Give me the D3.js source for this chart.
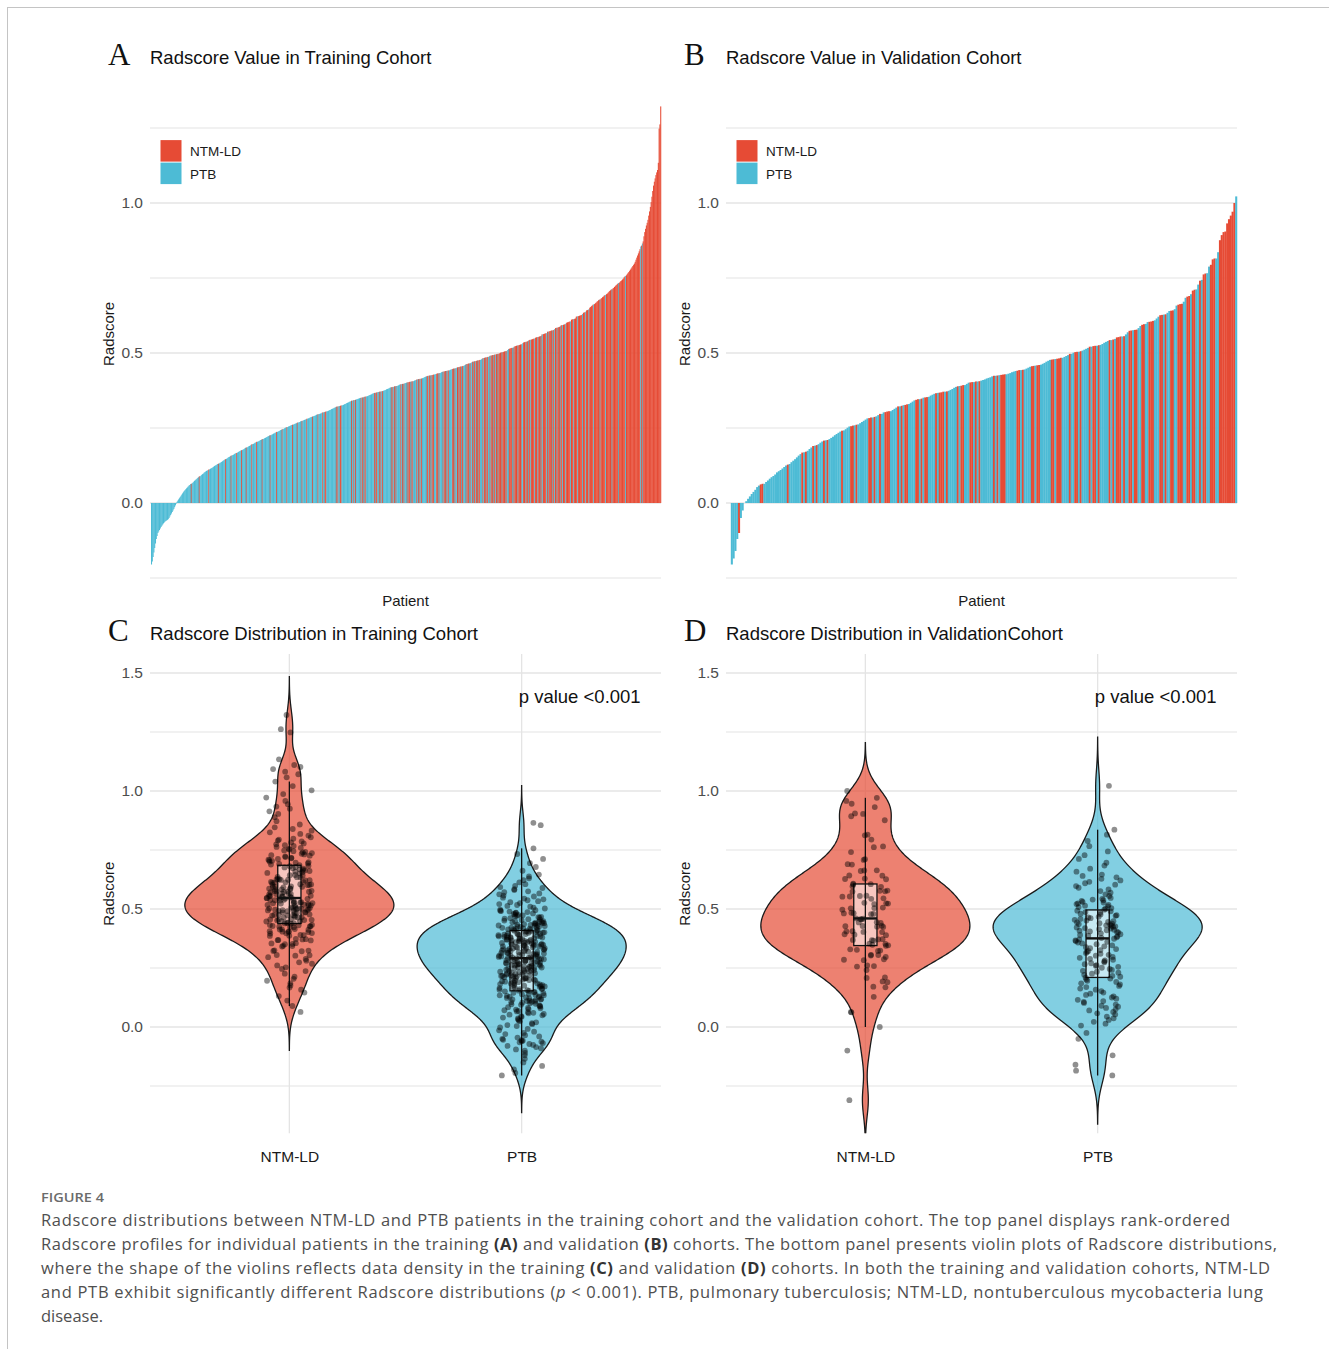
<!DOCTYPE html>
<html>
<head>
<meta charset="utf-8">
<script src="https://cdn.jsdelivr.net/npm/d3@7"></script>
<style>
  body { margin: 0; background: #fff; }
  svg { display: block; }
</style>
</head>
<body>
<svg id="fig" width="1329" height="1349"></svg>
<script>
// ---------------- data ----------------
const groups = ["NTM-LD", "PTB"];
const groupColors = ["#E64B35", "#4DBBD5"];

// Training cohort Radscore values (sorted)
const trainNTM = [
0.064,0.089,0.112,0.131,0.146,0.158,0.167,0.176,0.185,0.196,
0.204,0.213,0.226,0.237,0.246,0.253,0.261,0.268,0.274,0.281,0.288,0.296,
0.302,0.304,0.305,0.321,0.322,0.324,0.325,0.341,0.343,0.344,
0.351,0.352,0.354,0.355,0.367,0.368,0.369,0.371,0.372,0.373,0.386,0.387,0.389,0.390,0.396,0.397,0.398,
0.402,0.403,0.404,0.405,0.406,0.412,0.413,0.414,0.415,0.423,0.424,0.425,0.426,0.427,0.428,0.431,0.432,0.433,0.438,0.439,0.440,0.441,0.442,0.447,0.448,0.449,
0.452,0.453,0.454,0.455,0.456,0.457,0.463,0.464,0.465,0.466,0.471,0.472,0.473,0.474,0.475,0.476,0.477,0.483,0.484,0.485,0.486,0.487,0.491,0.492,0.493,0.494,0.495,0.496,0.497,0.498,0.499,
0.501,0.502,0.503,0.504,0.505,0.506,0.507,0.514,0.515,0.516,0.517,0.518,0.522,0.523,0.524,0.525,0.526,0.527,0.528,0.529,0.535,0.536,0.537,0.538,0.539,0.543,0.544,0.545,0.546,0.547,0.548,
0.551,0.552,0.553,0.554,0.555,0.556,0.562,0.563,0.564,0.565,0.566,0.571,0.572,0.573,0.574,0.575,0.576,0.577,0.583,0.584,0.585,0.586,0.587,0.592,0.593,0.594,0.595,0.596,
0.601,0.602,0.603,0.604,0.605,0.611,0.612,0.613,0.614,0.615,0.621,0.622,0.623,0.624,0.625,0.626,0.627,0.634,0.635,0.636,0.642,0.643,0.644,
0.651,0.653,0.656,0.658,0.661,0.663,0.666,0.668,0.671,0.673,0.676,0.678,0.681,0.683,0.686,0.688,0.691,0.693,0.696,0.698,
0.701,0.704,0.707,0.709,0.712,0.715,0.717,0.720,0.723,0.726,0.728,0.731,0.734,0.737,0.740,0.742,0.745,0.748,
0.752,0.755,0.759,0.763,0.767,0.770,0.774,0.778,0.782,0.786,0.790,0.794,0.798,
0.804,0.811,0.818,0.825,0.832,0.839,0.846,
0.858,0.872,0.889,0.903,0.914,0.925,0.934,0.944,0.958,0.972,0.987,
1.003,1.021,1.040,1.058,1.071,1.082,1.093,1.102,1.110,1.134,1.248,1.262,1.322
];
const trainPTB = [
-0.205,-0.195,-0.180,-0.165,-0.150,-0.135,-0.120,-0.110,-0.100,-0.095,
-0.090,-0.085,-0.080,-0.076,-0.072,-0.068,-0.065,-0.062,-0.060,-0.058,
-0.056,-0.054,-0.050,-0.045,-0.040,-0.035,-0.030,-0.025,-0.020,-0.014,-0.008,-0.002,
0.004,0.008,0.012,0.016,0.020,0.024,0.028,0.032,0.036,0.040,0.043,0.046,0.049,
0.052,0.055,0.058,0.060,0.063,0.066,0.068,0.071,0.074,0.076,0.079,0.081,0.084,0.086,0.089,0.091,0.094,0.096,0.098,
0.101,0.103,0.105,0.107,0.108,0.110,0.112,0.114,0.116,0.117,0.119,0.121,0.123,0.125,0.126,0.128,0.130,0.132,0.134,0.135,0.137,0.139,0.141,0.143,0.145,0.147,0.149,
0.151,0.153,0.154,0.156,0.158,0.160,0.161,0.163,0.165,0.166,0.168,0.170,0.172,0.173,0.175,0.177,0.178,0.180,0.182,0.184,0.185,0.187,0.189,0.190,0.192,0.194,0.196,0.197,0.199,
0.201,0.202,0.204,0.205,0.207,0.208,0.210,0.211,0.213,0.214,0.216,0.217,0.219,0.220,0.222,0.223,0.225,0.226,0.228,0.229,0.231,0.232,0.234,0.235,0.237,0.238,0.240,0.241,0.243,0.244,0.246,0.247,0.249,
0.251,0.252,0.253,0.255,0.256,0.257,0.259,0.260,0.261,0.263,0.264,0.265,0.266,0.268,0.269,0.270,0.272,0.273,0.274,0.276,0.277,0.278,0.279,0.281,0.282,0.283,0.285,0.286,0.287,0.289,0.290,0.291,0.292,0.294,0.295,0.296,0.297,0.298,0.299,
0.301,0.302,0.303,0.305,0.306,0.307,0.309,0.310,0.311,0.313,0.314,0.315,0.317,0.318,0.319,0.321,0.322,0.323,0.325,0.326,0.327,0.329,0.330,0.331,0.333,0.334,0.335,0.337,0.338,0.339,0.341,0.342,0.343,0.345,0.346,0.347,0.348,0.349,
0.350,0.351,0.352,0.354,0.355,0.356,0.357,0.359,0.360,0.361,0.362,0.364,0.365,0.366,0.367,0.369,0.370,0.371,0.372,0.374,0.375,0.376,0.377,0.379,0.380,0.381,0.382,0.384,0.385,0.386,0.387,0.389,0.390,0.391,0.392,0.394,0.395,0.396,0.397,0.399,
0.400,0.401,0.402,0.404,0.405,0.406,0.408,0.409,0.410,0.412,0.413,0.414,0.416,0.417,0.418,0.420,0.421,0.422,0.424,0.425,0.426,0.428,0.429,0.430,0.432,0.433,0.434,0.436,0.437,0.438,0.440,0.441,0.442,0.444,0.445,0.446,0.448,0.449,
0.451,0.453,0.455,0.457,0.459,0.461,0.463,0.465,0.467,0.469,0.471,0.473,0.475,0.477,0.479,0.481,0.483,0.485,0.487,0.489,0.491,0.493,0.495,0.497,
0.502,0.506,0.510,0.513,0.517,0.521,0.525,0.529,0.533,0.537,0.541,0.544,0.548,
0.553,0.557,0.562,0.566,0.571,0.575,0.580,0.584,0.589,0.593,0.598,
0.605,0.613,0.622,0.630,0.638,0.646,0.662,0.678,0.694,0.712,0.733,0.757,0.855,0.865
];

// Validation cohort Radscore values (sorted)
const validNTM = [
-0.310,-0.100,0.000,0.062,0.064,0.128,0.168,0.171,0.190,0.193,0.208,0.210,0.241,
0.256,0.258,0.261,0.283,0.285,0.287,0.297,
0.303,0.305,0.306,0.322,0.324,0.327,0.329,0.344,0.346,0.348,
0.352,0.353,0.366,0.368,0.369,0.371,0.372,0.389,0.391,0.393,
0.402,0.403,0.405,0.406,0.424,0.425,0.427,0.428,0.429,0.441,0.443,0.444,
0.456,0.457,0.459,0.460,0.478,0.479,0.481,0.482,0.484,0.497,
0.503,0.504,0.506,0.521,0.523,0.524,0.526,0.543,0.545,
0.552,0.553,0.555,0.556,0.574,0.575,0.577,0.578,0.594,0.596,
0.604,0.605,0.607,0.626,0.627,0.629,0.641,0.642,
0.661,0.663,0.664,0.688,0.690,
0.708,0.711,0.741,0.762,0.765,0.794,0.812,0.815,0.876,0.893,
0.903,0.905,0.932,0.946,0.958,0.971,1.000
];
const validPTB = [
-0.205,-0.185,-0.160,-0.120,-0.050,-0.025,
0.006,0.014,0.022,0.030,0.037,0.044,
0.053,0.058,0.064,0.070,0.075,0.081,0.086,0.090,0.095,
0.102,0.106,0.110,0.115,0.120,0.125,0.130,0.136,0.141,0.146,
0.152,0.158,0.163,0.169,0.174,0.180,0.185,0.191,0.196,
0.201,0.205,0.209,0.213,0.217,0.221,0.226,0.230,0.234,0.238,0.242,0.246,
0.251,0.255,0.259,0.262,0.266,0.270,0.274,0.278,0.282,0.285,0.289,0.293,0.297,
0.302,0.306,0.310,0.314,0.318,0.322,0.326,0.330,0.334,0.338,0.342,0.346,
0.351,0.354,0.358,0.361,0.364,0.367,0.371,0.374,0.377,0.380,0.384,0.387,0.390,0.393,0.397,
0.401,0.403,0.405,0.408,0.410,0.412,0.415,0.417,0.419,0.422,0.424,0.426,0.429,0.431,0.433,0.436,0.438,0.440,0.443,0.445,0.448,
0.451,0.454,0.458,0.461,0.464,0.467,0.471,0.474,0.477,0.480,0.484,0.487,0.490,0.493,0.497,
0.501,0.504,0.508,0.511,0.514,0.517,0.521,0.524,0.527,0.530,0.534,0.537,0.540,0.543,0.547,
0.555,0.562,0.569,0.576,0.583,0.590,0.597,
0.603,0.609,0.615,0.621,0.628,0.634,0.640,0.646,
0.658,0.671,0.684,0.696,0.712,0.728,0.744,0.766,0.788,0.815,0.836,1.022
];

const waterfallTicks = [0, 0.5, 1.0];
const violinTicks = [0, 0.5, 1.0, 1.5];
const pValueLabel = "p value <0.001";

// ---------------- drawing ----------------
const svg = d3.select("#fig");
const SANS = '"Liberation Sans", Arial, Helvetica, sans-serif';
const SERIF = '"Liberation Serif", "Times New Roman", serif';
const GRID_MAJOR = "#e4e4e4", GRID_MINOR = "#ececec";

// outer frame
svg.append("line").attr("x1", 7).attr("x2", 1329).attr("y1", 7.5).attr("y2", 7.5).attr("stroke", "#c4c4c4");
svg.append("line").attr("x1", 7.5).attr("x2", 7.5).attr("y1", 7).attr("y2", 1349).attr("stroke", "#c4c4c4");

function heading(letter, title, x, baseline) {
  svg.append("text").attr("x", x - 42).attr("y", baseline + 1.5)
    .attr("font-family", SERIF).attr("font-size", 31).attr("fill", "#111").text(letter);
  svg.append("text").attr("x", x).attr("y", baseline)
    .attr("font-family", SANS).attr("font-size", 18.5).attr("fill", "#111").text(title);
}

function styleAxisText(sel, size) {
  sel.select(".domain").remove();
  sel.selectAll("text").attr("font-family", SANS).attr("font-size", size).attr("fill", "#4d4d4d");
}

function yTitle(x, cy) {
  svg.append("text").attr("transform", `translate(${x},${cy}) rotate(-90)`)
    .attr("text-anchor", "middle").attr("font-family", SANS).attr("font-size", 15)
    .attr("fill", "#1a1a1a").text("Radscore");
}

// Rank-ordered Radscore bars, coloured by group
function drawWaterfall(o) {
  const rows = d3.sort(
    [...o.ntm.map(v => ({ g: 0, v })), ...o.ptb.map(v => ({ g: 1, v }))],
    d => d.v
  ).map((d, i) => ({ ...d, i }));
  const domain = [-0.276, 1.403];
  const y = d3.scaleLinear().domain(domain).range([o.bottom, o.top]);
  const x = d3.scaleBand().domain(d3.range(rows.length)).range([o.barStart, o.x1]).padding(0);
  const g = svg.append("g");

  g.selectAll("line.grid").data(d3.range(-0.25, 1.26, 0.25)).join("line")
    .attr("x1", o.x0).attr("x2", o.x1)
    .attr("y1", d => y(d)).attr("y2", d => y(d))
    .attr("stroke", d => Math.abs(d * 2 - Math.round(d * 2)) < 1e-6 ? GRID_MAJOR : GRID_MINOR)
    .attr("stroke-width", 1.3);

  g.append("g").selectAll("rect")
    .data(rows.filter(d => d.v >= domain[0]))
    .join("rect")
    .attr("x", d => x(d.i))
    .attr("width", x.bandwidth() + 0.25)
    .attr("y", d => Math.min(y(d.v), y(0)))
    .attr("height", d => Math.abs(y(d.v) - y(0)))
    .attr("fill", d => groupColors[d.g]);

  const ax = g.append("g").attr("transform", `translate(${o.x0},0)`)
    .call(d3.axisLeft(y).tickValues(waterfallTicks).tickFormat(d3.format(".1f")).tickSize(0).tickPadding(7));
  styleAxisText(ax, 15.5);

  yTitle(o.x0 - 36, (o.top + o.bottom) / 2);
  svg.append("text").attr("x", (o.x0 + o.x1) / 2).attr("y", o.bottom + 20)
    .attr("text-anchor", "middle").attr("font-family", SANS).attr("font-size", 15)
    .attr("fill", "#1a1a1a").text("Patient");

  // legend
  const lg = svg.append("g").attr("transform", `translate(${o.x0 + 10.5},${o.top + 58})`);
  groups.forEach((name, k) => {
    lg.append("rect").attr("x", 0).attr("y", k * 22.5).attr("width", 21).attr("height", 21.5)
      .attr("fill", groupColors[k]);
    lg.append("text").attr("x", 29.5).attr("y", k * 22.5 + 16)
      .attr("font-family", SANS).attr("font-size", 13.5).attr("fill", "#1a1a1a").text(name);
  });
}

function bwNrd0(v) {
  const s = d3.deviation(v);
  const iqr = (d3.quantileSorted(v, 0.75) - d3.quantileSorted(v, 0.25)) / 1.34;
  const lo = Math.min(s, iqr) || s;
  return 0.9 * lo * Math.pow(v.length, -0.2);
}

function kde(v) {
  const bw = bwNrd0(v);
  const lo = v[0] - 3 * bw, hi = v[v.length - 1] + 3 * bw;
  const k = 1 / (bw * Math.sqrt(2 * Math.PI) * v.length);
  return d3.range(512).map(j => {
    const t = lo + (hi - lo) * j / 511;
    return { v: t, d: k * d3.sum(v, u => Math.exp(-0.5 * ((t - u) / bw) ** 2)) };
  });
}

function boxStats(v) {
  const q1 = d3.quantileSorted(v, 0.25), med = d3.quantileSorted(v, 0.5), q3 = d3.quantileSorted(v, 0.75);
  const iqr = q3 - q1;
  return {
    q1, med, q3,
    lo: d3.min(v.filter(u => u >= q1 - 1.5 * iqr)),
    hi: d3.max(v.filter(u => u <= q3 + 1.5 * iqr))
  };
}

// deterministic horizontal spread for the point cloud
function spread(i, seed) {
  const s = Math.sin((i + 1) * 12.9898 + seed * 78.233) * 43758.5453;
  return s - Math.floor(s);
}

let clipId = 0;
function drawViolin(o) {
  const data = [o.ntm, o.ptb].map(a => a.slice().sort(d3.ascending));
  const x = d3.scalePoint().domain(groups).range([o.x0, o.x1]).padding(0.6);
  const step = x.step();
  const y = d3.scaleLinear().domain([-0.45, 1.58]).range([1133.2, 654.1]);
  const g = svg.append("g");
  const cid = "clip" + (clipId++);
  svg.append("clipPath").attr("id", cid).append("rect")
    .attr("x", o.x0).attr("y", y.range()[1]).attr("width", o.x1 - o.x0).attr("height", y.range()[0] - y.range()[1]);

  g.selectAll("line.hgrid").data(d3.range(-0.25, 1.51, 0.25)).join("line")
    .attr("x1", o.x0).attr("x2", o.x1)
    .attr("y1", d => y(d)).attr("y2", d => y(d))
    .attr("stroke", d => Math.abs(d * 2 - Math.round(d * 2)) < 1e-6 ? GRID_MAJOR : GRID_MINOR)
    .attr("stroke-width", 1.3);
  g.selectAll("line.vgrid").data(groups).join("line")
    .attr("x1", d => x(d)).attr("x2", d => x(d))
    .attr("y1", y.range()[1]).attr("y2", y.range()[0])
    .attr("stroke", GRID_MAJOR).attr("stroke-width", 1.3);

  const plot = g.append("g").attr("clip-path", `url(#${cid})`);
  const half = 0.45 * step;
  const boxHalf = 0.05 * step;

  data.forEach((vals, k) => {
    const cx = x(groups[k]);
    const dens = kde(vals);
    const maxD = d3.max(dens, d => d.d);
    const area = d3.area()
      .x0(d => cx - d.d / maxD * half)
      .x1(d => cx + d.d / maxD * half)
      .y(d => y(d.v));
    plot.append("path").datum(dens).attr("d", area)
      .attr("fill", groupColors[k]).attr("fill-opacity", 0.7)
      .attr("stroke", "#1a1a1a").attr("stroke-width", 1.3);

    const b = boxStats(vals);
    plot.append("line").attr("x1", cx).attr("x2", cx).attr("y1", y(b.q3)).attr("y2", y(b.hi))
      .attr("stroke", "#111").attr("stroke-width", 1.3);
    plot.append("line").attr("x1", cx).attr("x2", cx).attr("y1", y(b.q1)).attr("y2", y(b.lo))
      .attr("stroke", "#111").attr("stroke-width", 1.3);
    plot.append("rect").attr("x", cx - boxHalf).attr("width", 2 * boxHalf)
      .attr("y", y(b.q3)).attr("height", y(b.q1) - y(b.q3))
      .attr("fill", "#fff").attr("fill-opacity", 0.55)
      .attr("stroke", "#111").attr("stroke-width", 1.3);

    plot.append("g").selectAll("circle").data(vals).join("circle")
      .attr("cx", (d, i) => cx + (spread(i, k + o.seed) * 2 - 1) * 0.1 * step)
      .attr("cy", d => y(d))
      .attr("r", 2.9)
      .attr("fill", "#000").attr("fill-opacity", 0.44);

    plot.append("line").attr("x1", cx).attr("x2", cx).attr("y1", y(b.q3)).attr("y2", y(b.q1))
      .attr("stroke", "#111").attr("stroke-width", 1.3);
    plot.append("line").attr("x1", cx - boxHalf).attr("x2", cx + boxHalf).attr("y1", y(b.med)).attr("y2", y(b.med))
      .attr("stroke", "#111").attr("stroke-width", 2.4);
  });

  g.append("text").attr("x", x(groups[1]) + 0.25 * step).attr("y", y(1.4) + 6.5)
    .attr("text-anchor", "middle").attr("font-family", SANS).attr("font-size", 18.5)
    .attr("fill", "#111").text(pValueLabel);

  const ay = g.append("g").attr("transform", `translate(${o.x0},0)`)
    .call(d3.axisLeft(y).tickValues(violinTicks).tickFormat(d3.format(".1f")).tickSize(0).tickPadding(7));
  styleAxisText(ay, 15.5);
  const axb = g.append("g").attr("transform", `translate(0,${y.range()[0]})`)
    .call(d3.axisBottom(x).tickSize(0).tickPadding(18));
  styleAxisText(axb, 15.5);
  axb.selectAll("text").attr("fill", "#1a1a1a");

  yTitle(o.x0 - 36, (y.range()[0] + y.range()[1]) / 2);
}

heading("A", "Radscore Value in Training Cohort", 150, 63.5);
heading("B", "Radscore Value in Validation Cohort", 726, 63.5);
heading("C", "Radscore Distribution in Training Cohort", 150, 639.5);
heading("D", "Radscore Distribution in ValidationCohort", 726, 639.5);

drawWaterfall({ ntm: trainNTM, ptb: trainPTB, x0: 150, x1: 661, barStart: 151, top: 82.1, bottom: 585.8 });
drawWaterfall({ ntm: validNTM, ptb: validPTB, x0: 726, x1: 1237, barStart: 729, top: 82.1, bottom: 585.8 });
drawViolin({ ntm: trainNTM, ptb: trainPTB, x0: 150, x1: 661, seed: 1 });
drawViolin({ ntm: validNTM, ptb: validPTB, x0: 726, x1: 1237, seed: 5 });

// ---------------- caption ----------------
const CAP = '"Open Sans", "Noto Sans", sans-serif';
svg.append("text").attr("x", 41).attr("y", 1202).attr("font-family", CAP).attr("font-size", 12.5)
  .attr("font-weight", 600).attr("fill", "#6b6b6b").attr("textLength", 63).attr("lengthAdjust", "spacingAndGlyphs")
  .text("FIGURE 4");

const captionLines = [
  { w: 1189, parts: [["Radscore distributions between NTM-LD and PTB patients in the training cohort and the validation cohort. The top panel displays rank-ordered", ""]] },
  { w: 1236, parts: [["Radscore profiles for individual patients in the training ", ""], ["(A)", "b"], [" and validation ", ""], ["(B)", "b"], [" cohorts. The bottom panel presents violin plots of Radscore distributions,", ""]] },
  { w: 1229, parts: [["where the shape of the violins reflects data density in the training ", ""], ["(C)", "b"], [" and validation ", ""], ["(D)", "b"], [" cohorts. In both the training and validation cohorts, NTM-LD", ""]] },
  { w: 1222, parts: [["and PTB exhibit significantly different Radscore distributions (", ""], ["p", "i"], [" < 0.001). PTB, pulmonary tuberculosis; NTM-LD, nontuberculous mycobacteria lung", ""]] },
  { w: null, parts: [["disease.", ""]] }
];
captionLines.forEach((ln, i) => {
  const t = svg.append("text").attr("x", 41).attr("y", 1226 + i * 24)
    .attr("font-family", CAP).attr("font-size", 16.5).attr("fill", "#4f4f4f");
  if (ln.w) t.attr("textLength", ln.w).attr("lengthAdjust", "spacing");
  ln.parts.forEach(([s, st]) => {
    const ts = t.append("tspan").text(s);
    if (st === "b") ts.attr("font-weight", 700).attr("fill", "#333");
    if (st === "i") ts.attr("font-style", "italic");
  });
});
</script>
</body>
</html>
